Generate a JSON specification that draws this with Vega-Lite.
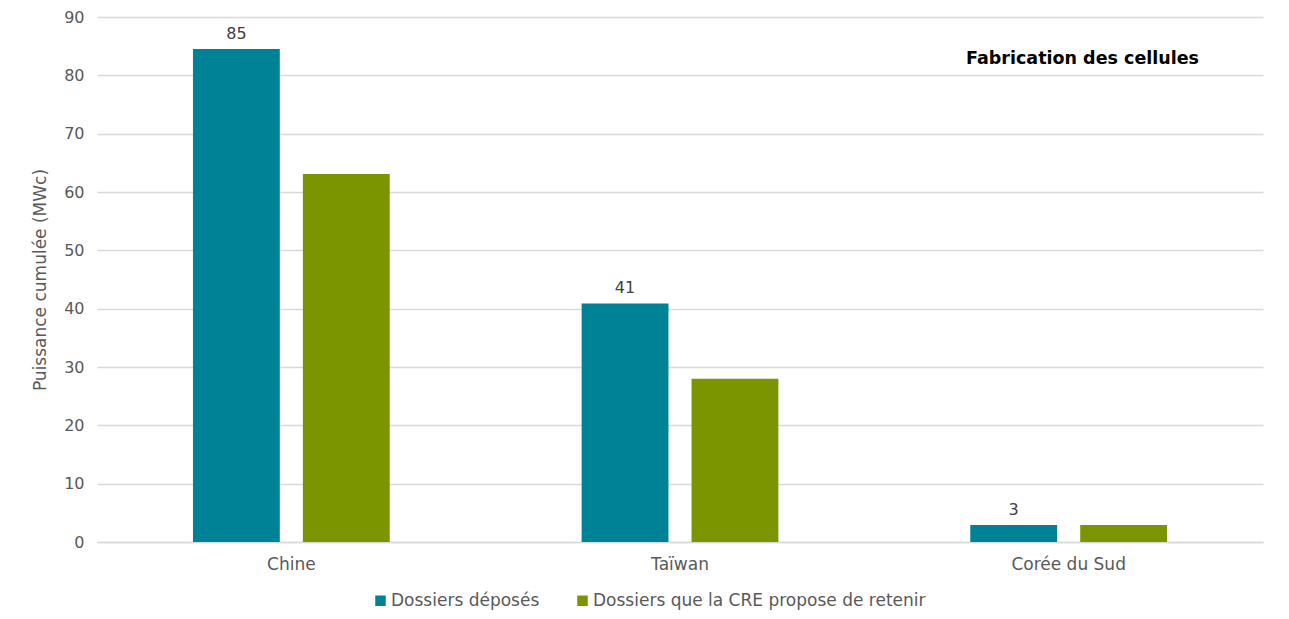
{
  "$schema": "https://vega.github.io/schema/vega-lite/v6.json",
  "width": 1166,
  "height": 525,
  "autosize": "none",
  "padding": {"left": 97, "top": 17, "right": 26, "bottom": 77},
  "background": "white",
  "config": {
    "view": {"stroke": null},
    "font": "DejaVu Sans",
    "axis": {"labelFont": "DejaVu Sans", "titleFont": "DejaVu Sans", "labelColor": "#595959", "titleColor": "#595959"}
  },
  "title": {
    "text": "Fabrication des cellules",
    "orient": "top",
    "anchor": "end",
    "offset": -58,
    "dx": -64,
    "font": "DejaVu Sans",
    "fontSize": 17.5,
    "fontWeight": 600,
    "color": "#000000"
  },
  "data": {
    "values": [
      {"pays": "Chine", "serie": "Dossiers déposés", "valeur": 84.5, "label": "85"},
      {"pays": "Chine", "serie": "Dossiers que la CRE propose de retenir", "valeur": 63.1, "label": ""},
      {"pays": "Taïwan", "serie": "Dossiers déposés", "valeur": 40.9, "label": "41"},
      {"pays": "Taïwan", "serie": "Dossiers que la CRE propose de retenir", "valeur": 28.0, "label": ""},
      {"pays": "Corée du Sud", "serie": "Dossiers déposés", "valeur": 2.9, "label": "3"},
      {"pays": "Corée du Sud", "serie": "Dossiers que la CRE propose de retenir", "valeur": 2.9, "label": ""}
    ]
  },
  "encoding": {
    "x": {
      "field": "pays",
      "type": "nominal",
      "sort": ["Chine", "Taïwan", "Corée du Sud"],
      "scale": {"paddingInner": 0, "paddingOuter": 0},
      "axis": {
        "title": null,
        "labelAngle": 0,
        "labelFontSize": 17,
        "labelPadding": 14,
        "ticks": false,
        "domain": true,
        "domainColor": "#d9d9d9",
        "domainWidth": 1.3
      }
    },
    "xOffset": {
      "field": "serie",
      "type": "nominal",
      "scale": {"paddingInner": 0.21, "paddingOuter": 0.873}
    },
    "y": {
      "field": "valeur",
      "type": "quantitative",
      "scale": {"domain": [0, 90]},
      "axis": {
        "title": "Puissance cumulée (MWc)",
        "titleFontSize": 17,
        "titleFontWeight": "normal",
        "titlePadding": 14,
        "values": [0, 10, 20, 30, 40, 50, 60, 70, 80, 90],
        "labelFontSize": 16,
        "labelPadding": 13,
        "ticks": false,
        "domain": false,
        "gridColor": "#d9d9d9",
        "gridWidth": 1.3
      }
    }
  },
  "layer": [
    {
      "mark": {"type": "bar"},
      "encoding": {
        "color": {
          "field": "serie",
          "type": "nominal",
          "scale": {
            "domain": ["Dossiers déposés", "Dossiers que la CRE propose de retenir"],
            "range": ["#008296", "#7a9500"]
          },
          "legend": {
            "title": null,
            "orient": "none",
            "direction": "horizontal",
            "legendX": 275,
            "legendY": 575,
            "symbolType": "square",
            "symbolSize": 110,
            "labelFontSize": 17,
            "labelColor": "#595959",
            "labelFont": "DejaVu Sans",
            "labelLimit": 0,
            "columnPadding": 34,
            "labelOffset": 2
          }
        }
      }
    },
    {
      "mark": {"type": "text", "baseline": "bottom", "dy": -7, "fontSize": 16, "color": "#404040", "font": "DejaVu Sans"},
      "encoding": {"text": {"field": "label"}}
    }
  ]
}
